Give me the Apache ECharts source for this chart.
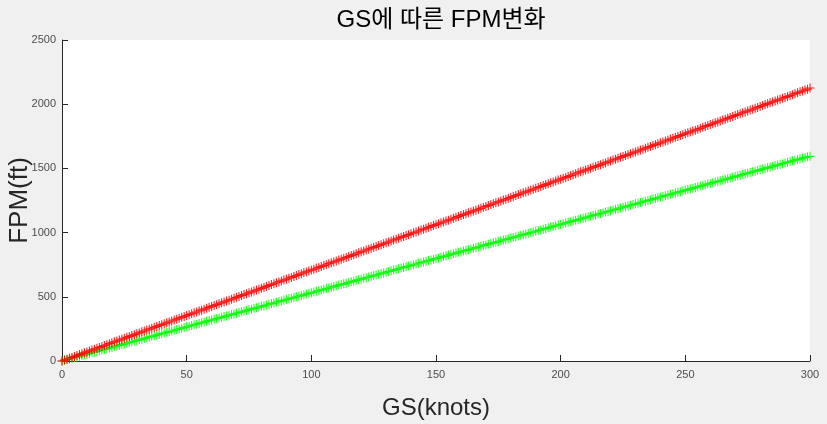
<!DOCTYPE html>
<html><head><meta charset="utf-8">
<script src="https://cdn.jsdelivr.net/npm/echarts@6/dist/echarts.min.js"></script>
<style>html,body{margin:0;padding:0;background:#f0f0f0}#c{width:827px;height:424px}</style>
</head><body><div id="c"></div>
<script>
// GS (knots), 0..300 step 1
const gs = Array.from({length: 301}, (_, i) => i);
const xTicks = [0, 50, 100, 150, 200, 250, 300];
const yTicks = [0, 500, 1000, 1500, 2000, 2500];
// FPM readings, red series
const fpmRed = [
0,7,14,21,28,35,42,50,57,64,71,78,85,92,99,106,113,120,127,135,142,149,156,163,170,
177,184,191,198,205,212,219,227,234,241,248,255,262,269,276,283,290,297,304,312,319,326,333,340,347,
354,361,368,375,382,389,396,404,411,418,425,432,439,446,453,460,467,474,481,489,496,503,510,517,524,
531,538,545,552,559,566,573,581,588,595,602,609,616,623,630,637,644,651,658,666,673,680,687,694,701,
708,715,722,729,736,743,750,758,765,772,779,786,793,800,807,814,821,828,835,843,850,857,864,871,878,
885,892,899,906,913,920,927,935,942,949,956,963,970,977,984,991,998,1005,1012,1020,1027,1034,1041,1048,1055,
1062,1069,1076,1083,1090,1097,1104,1112,1119,1126,1133,1140,1147,1154,1161,1168,1175,1182,1189,1197,1204,1211,1218,1225,1232,
1239,1246,1253,1260,1267,1274,1281,1289,1296,1303,1310,1317,1324,1331,1338,1345,1352,1359,1366,1374,1381,1388,1395,1402,1409,
1416,1423,1430,1437,1444,1451,1458,1466,1473,1480,1487,1494,1501,1508,1515,1522,1529,1536,1543,1551,1558,1565,1572,1579,1586,
1593,1600,1607,1614,1621,1628,1635,1643,1650,1657,1664,1671,1678,1685,1692,1699,1706,1713,1720,1728,1735,1742,1749,1756,1763,
1770,1777,1784,1791,1798,1805,1812,1820,1827,1834,1841,1848,1855,1862,1869,1876,1883,1890,1897,1905,1912,1919,1926,1933,1940,
1947,1954,1961,1968,1975,1982,1989,1997,2004,2011,2018,2025,2032,2039,2046,2053,2060,2067,2074,2082,2089,2096,2103,2110,2117,
2126];
// FPM readings, green series
const fpmGreen = [
0,5,11,16,21,27,32,37,43,48,53,59,64,69,74,80,85,90,96,101,106,112,117,122,128,
133,138,144,149,154,160,165,170,176,181,186,192,197,202,207,213,218,223,229,234,239,245,250,255,261,
266,271,277,282,287,293,298,303,309,314,319,325,330,335,340,346,351,356,362,367,372,378,383,388,394,
399,404,410,415,420,426,431,436,442,447,452,458,463,468,473,479,484,489,495,500,505,511,516,521,527,
532,537,543,548,553,559,564,569,575,580,585,591,596,601,606,612,617,622,628,633,638,644,649,654,660,
665,670,676,681,686,692,697,702,708,713,718,724,729,734,739,745,750,755,761,766,771,777,782,787,793,
798,803,809,814,819,825,830,835,841,846,851,857,862,867,872,878,883,888,894,899,904,910,915,920,926,
931,936,942,947,952,958,963,968,974,979,984,990,995,1000,1005,1011,1016,1021,1027,1032,1037,1043,1048,1053,1059,
1064,1069,1075,1080,1085,1091,1096,1101,1107,1112,1117,1123,1128,1133,1138,1144,1149,1154,1160,1165,1170,1176,1181,1186,1192,
1197,1202,1208,1213,1218,1224,1229,1234,1240,1245,1250,1256,1261,1266,1271,1277,1282,1287,1293,1298,1303,1309,1314,1319,1325,
1330,1335,1341,1346,1351,1357,1362,1367,1373,1378,1383,1389,1394,1399,1404,1410,1415,1420,1426,1431,1436,1442,1447,1452,1458,
1463,1468,1474,1479,1484,1490,1495,1500,1506,1511,1516,1522,1527,1532,1537,1543,1548,1553,1559,1564,1569,1575,1580,1585,1591,
1594];

const plusSym = 'path://M7,0h2v16h-2zM0,7h16v2h-16z';
const tickFont = "'Liberation Sans Narrow','Liberation Sans',Arial,sans-serif";

const chart = echarts.init(document.getElementById('c'), null, {renderer: 'canvas'});
chart.setOption({
  backgroundColor: '#f0f0f0',
  animation: false,
  title: {
    text: 'GS에 따른 FPM변화',
    left: 436, top: 3, textAlign: 'center',
    textStyle: {fontFamily: "'Liberation Sans','Noto Sans CJK KR',sans-serif", fontSize: 24, fontWeight: 'normal', color: '#000'}
  },
  grid: {left: 62, right: 17, top: 40, bottom: 63, show: true, backgroundColor: '#fff', borderWidth: 0,
         containLabel: false, outerBoundsMode: 'none'},
  xAxis: {
    type: 'value', min: xTicks[0], max: xTicks[xTicks.length - 1], interval: 50,
    name: 'GS(knots)', nameLocation: 'middle', nameGap: 35, nameMoveOverlap: false,
    nameTextStyle: {fontFamily: "'Liberation Sans',Arial,sans-serif", fontSize: 24, color: '#262626'},
    axisLine: {lineStyle: {color: '#262626', width: 1}},
    axisTick: {show: true, inside: true, length: 6, lineStyle: {color: '#262626'}},
    axisLabel: {fontFamily: tickFont, fontSize: 11, color: '#4d4d4d', margin: 8, formatter: v => String(v)},
    splitLine: {show: false}
  },
  yAxis: {
    type: 'value', min: yTicks[0], max: yTicks[yTicks.length - 1], interval: 500,
    name: 'FPM(ft)', nameLocation: 'middle', nameGap: 29, nameMoveOverlap: false,
    nameTextStyle: {fontFamily: "'Liberation Sans',Arial,sans-serif", fontSize: 26, color: '#262626'},
    axisLine: {show: true, lineStyle: {color: '#262626', width: 1}},
    axisTick: {show: true, inside: true, length: 6, lineStyle: {color: '#262626'}},
    axisLabel: {fontFamily: tickFont, fontSize: 11, color: '#4d4d4d', margin: 6, formatter: v => String(v)},
    splitLine: {show: false}
  },
  series: [
    {type: 'scatter', data: gs.map((g, i) => [g, fpmGreen[i]]), symbol: plusSym, symbolSize: 9,
     itemStyle: {color: '#00ff00', opacity: 0.85}, silent: true},
    {type: 'scatter', data: gs.map((g, i) => [g, fpmRed[i]]), symbol: plusSym, symbolSize: 9,
     itemStyle: {color: '#ff0000', opacity: 0.85}, silent: true}
  ]
});
</script></body></html>
